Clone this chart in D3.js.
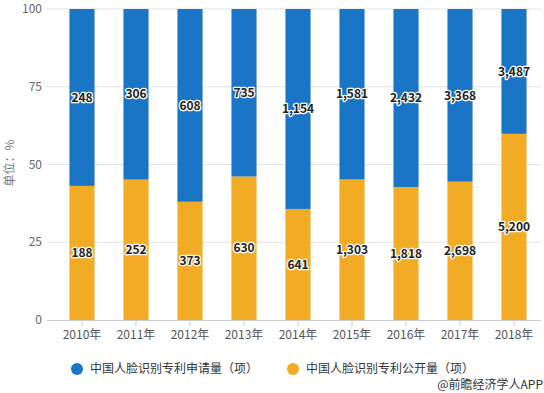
<!DOCTYPE html>
<html><head><meta charset="utf-8">
<script src="https://cdn.jsdelivr.net/npm/d3@7"></script>
<style>
html,body{margin:0;padding:0;background:#fff;}
svg{display:block;font-family:"Noto Sans CJK SC","Noto Sans",sans-serif;}
</style></head>
<body>
<svg id="c" width="544" height="393"></svg>
<script>
const categories = ["2010年","2011年","2012年","2013年","2014年","2015年","2016年","2017年","2018年"];
const applications = [248,306,608,735,1154,1581,2432,3368,3487];
const publications = [188,252,373,630,641,1303,1818,2698,5200];
const seriesNames = ["中国人脸识别专利申请量（项）","中国人脸识别专利公开量（项）"];
const seriesColors = ["#1b75c6","#f1ab25"];
const yTicks = [0,25,50,75,100];

(function(){
const svg = d3.select("#c");
const left = 47, plotL = 55, plotR = 541, plotTop = 9, plotBottom = 320;

const x = d3.scaleBand().domain(categories).range([plotL, plotR]).paddingInner(0.535).paddingOuter(0.2675);
const y = d3.scaleLinear().domain([0,100]).range([plotBottom, plotTop]);

svg.append("g").selectAll("line").data(yTicks.filter(d=>d>0)).join("line")
  .attr("x1", left).attr("x2", plotR).attr("y1", d=>y(d)).attr("y2", d=>y(d))
  .attr("stroke","#e3e3e3").attr("stroke-width",1);

svg.append("g").selectAll("text").data(yTicks).join("text")
  .attr("x", 42).attr("y", d=>y(d)).attr("dy","0.35em").attr("text-anchor","end")
  .attr("font-size",12).attr("fill","#666").text(d=>d);

svg.append("text").attr("transform","translate(10,163) rotate(-90)").attr("text-anchor","middle")
  .attr("dy","0.35em").attr("font-size",12).attr("fill","#777").text("单位：%");

const rows = categories.map((c,i)=>{
  const tot = applications[i]+publications[i];
  return {c, app: applications[i], pub: publications[i], pubPct: publications[i]/tot*100};
});

const g = svg.append("g");
g.selectAll("rect.pub").data(rows).join("rect").attr("class","pub")
  .attr("x", d=>x(d.c)).attr("width", x.bandwidth())
  .attr("y", d=>y(d.pubPct)).attr("height", d=>y(0)-y(d.pubPct))
  .attr("fill", seriesColors[1]);
g.selectAll("rect.app").data(rows).join("rect").attr("class","app")
  .attr("x", d=>x(d.c)).attr("width", x.bandwidth())
  .attr("y", y(100)).attr("height", d=>y(d.pubPct)-y(100))
  .attr("fill", seriesColors[0]);

const fmt = d3.format(",");
function labels(acc, posFn){
  g.append("g").selectAll("text").data(rows).join("text")
    .attr("x", d=>x(d.c)+x.bandwidth()/2).attr("y", posFn).attr("dy","0.35em")
    .attr("text-anchor","middle").attr("font-size",12).attr("font-weight","bold")
    .attr("fill","#222").attr("stroke","#fff").attr("stroke-width",2.5)
    .attr("paint-order","stroke").attr("stroke-linejoin","round")
    .text(d=>fmt(acc(d)));
}
labels(d=>d.app, d=>(y(100)+y(d.pubPct))/2);
labels(d=>d.pub, d=>(y(0)+y(d.pubPct))/2);

svg.append("line").attr("x1",left).attr("x2",plotR).attr("y1",plotBottom+0.5).attr("y2",plotBottom+0.5)
  .attr("stroke","#ccc");
svg.append("g").selectAll("line").data(categories).join("line")
  .attr("x1", d=>x(d)+x.bandwidth()/2).attr("x2", d=>x(d)+x.bandwidth()/2)
  .attr("y1", plotBottom).attr("y2", plotBottom+6).attr("stroke","#ccc");
svg.append("g").selectAll("text").data(categories).join("text")
  .attr("x", d=>x(d)+x.bandwidth()/2).attr("y", 335).attr("dy","0.35em")
  .attr("text-anchor","middle").attr("font-size",12).attr("fill","#555").text(d=>d);

const leg = [{x:77},{x:293}];
leg.forEach((l,i)=>{
  svg.append("circle").attr("cx", l.x).attr("cy", 369).attr("r",6).attr("fill", seriesColors[i]);
  svg.append("text").attr("x", l.x+13).attr("y",369).attr("dy","0.35em")
    .attr("font-size",12).attr("fill","#333").text(seriesNames[i]);
});

svg.append("text").attr("x", 543).attr("y", 385).attr("dy","0.35em").attr("text-anchor","end")
  .attr("font-size",12).attr("fill","#333").text("@前瞻经济学人APP");
})();
</script>
</body></html>
